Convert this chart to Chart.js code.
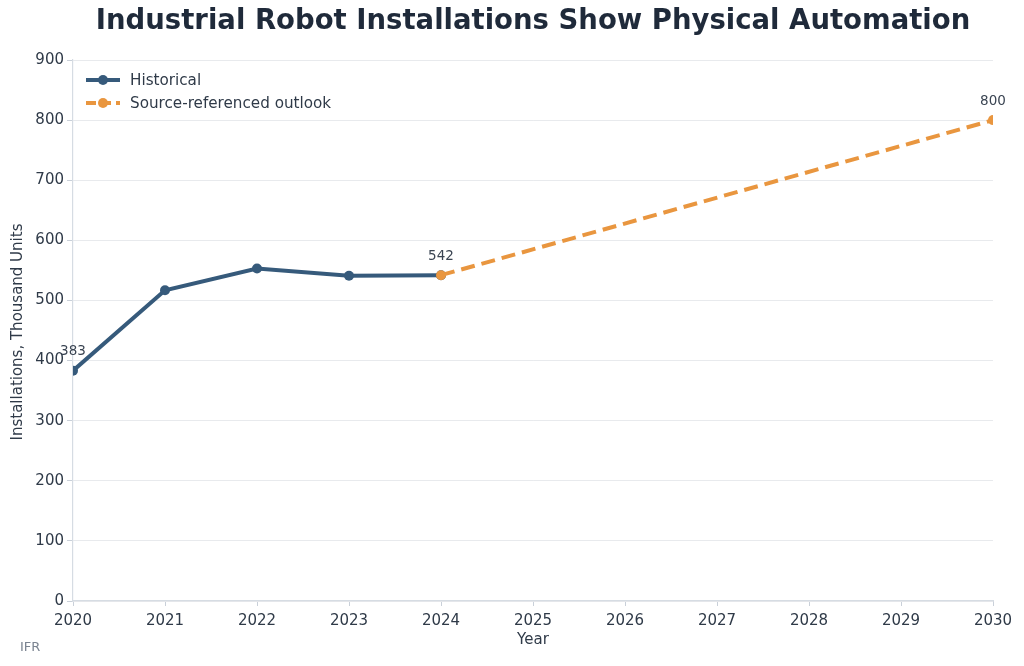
<!DOCTYPE html>
<html lang="en">
<head>
    <meta charset="UTF-8">
    <title>robot_installations</title>
    <script src="https://cdn.jsdelivr.net/npm/chart.js@4.4.1/dist/chart.umd.min.js"></script>
    <style>
        *{margin:0; padding:0;}
        body{background:#fff;}
        #wrap{width:1024px; height:666px; position:relative;}
    </style>
</head>
<body>
    <div id="wrap">
        <canvas id="lineChart" width="1024" height="666"></canvas>
    </div>

    <script>
        // data
        const histYears = [2020, 2021, 2022, 2023, 2024]
        const histValues = [383, 517, 553, 541, 542]
        const outlookYears = [2024, 2030]
        const outlookValues = [542, 800]
        const yTicks = [0, 100, 200, 300, 400, 500, 600, 700, 800, 900]

        const FONT = '"DejaVu Sans", sans-serif'
        const BLUE = '#365a7b'
        const ORANGE = '#e9963f'
        const TEXT = '#2f3a48'

        // labels drawn above some points
        const pointLabels = [
            {ds: 1, index: 0},
            {ds: 1, index: 4},
            {ds: 0, index: 1}
        ]

        const extraText = {
            id: 'extraText',
            afterDatasetsDraw(chart){
                const ctx = chart.ctx
                ctx.save()
                ctx.fillStyle = '#3a4452'
                ctx.font = '13.5px ' + FONT
                ctx.textAlign = 'center'
                ctx.textBaseline = 'middle'
                pointLabels.forEach(function(p){
                    const el = chart.getDatasetMeta(p.ds).data[p.index]
                    const v = chart.data.datasets[p.ds].data[p.index].y
                    ctx.fillText(String(v), el.x, el.y - 19)
                })

                // legend
                const rows = [
                    {label:'Historical', color:BLUE, dash:[]},
                    {label:'Source-referenced outlook', color:ORANGE, dash:[10, 5]}
                ]
                rows.forEach(function(r, i){
                    const y = 80 + i * 23
                    ctx.strokeStyle = r.color
                    ctx.lineWidth = 4
                    ctx.setLineDash(r.dash)
                    ctx.beginPath()
                    ctx.moveTo(86, y)
                    ctx.lineTo(120, y)
                    ctx.stroke()
                    ctx.setLineDash([])
                    ctx.fillStyle = r.color
                    ctx.beginPath()
                    ctx.arc(103, y, 5, 0, Math.PI * 2)
                    ctx.fill()
                    ctx.fillStyle = TEXT
                    ctx.font = '15.2px ' + FONT
                    ctx.textAlign = 'left'
                    ctx.fillText(r.label, 130, y + 1)
                })
                ctx.restore()
            },
            afterDraw(chart){
                const ctx = chart.ctx
                ctx.save()
                ctx.fillStyle = '#1f2a3a'
                ctx.font = 'bold 27.5px ' + FONT
                ctx.textAlign = 'center'
                ctx.textBaseline = 'middle'
                ctx.fillText('Industrial Robot Installations Show Physical Automation', 533, 22)

                ctx.fillStyle = TEXT
                ctx.font = '15px ' + FONT
                ctx.fillText('Year', 533, 640)
                ctx.translate(18, 332)
                ctx.rotate(-Math.PI / 2)
                ctx.fillText('Installations, Thousand Units', 0, 0)
                ctx.restore()

                ctx.save()
                ctx.fillStyle = '#7b8491'
                ctx.font = '13px ' + FONT
                ctx.textAlign = 'left'
                ctx.textBaseline = 'middle'
                ctx.fillText('IFR', 20, 648)
                ctx.restore()
            }
        }

        const config = {
            type:'line',
            data:{
                datasets:[
                    {
                        label:'Source-referenced outlook',
                        data:outlookYears.map(function(x, i){ return {x:x, y:outlookValues[i]} }),
                        borderColor:ORANGE,
                        backgroundColor:ORANGE,
                        borderWidth:4,
                        borderDash:[14, 7],
                        pointRadius:5,
                        pointBorderWidth:0,
                        pointHoverRadius:5,
                        clip:0,
                        order:0
                    },
                    {
                        label:'Historical',
                        data:histYears.map(function(x, i){ return {x:x, y:histValues[i]} }),
                        borderColor:BLUE,
                        backgroundColor:BLUE,
                        borderWidth:4,
                        pointRadius:5,
                        pointBorderWidth:0,
                        pointHoverRadius:5,
                        clip:0,
                        order:1
                    }
                ]
            },
            options:{
                responsive:false,
                animation:false,
                layout:{padding:{left:0, right:31, top:60, bottom:0}},
                plugins:{
                    legend:{display:false},
                    tooltip:{enabled:false}
                },
                scales:{
                    x:{
                        type:'linear',
                        min:2020,
                        max:2030,
                        afterFit:function(s){ s.height = 65 },
                        afterBuildTicks:function(s){
                            s.ticks = []
                            for(let y = 2020; y <= 2030; y++) s.ticks.push({value:y})
                        },
                        ticks:{
                            callback:function(v){ return String(v) },
                            color:TEXT,
                            font:{family:FONT, size:15},
                            padding:6,
                            maxRotation:0,
                            autoSkip:false
                        },
                        grid:{
                            drawOnChartArea:false,
                            drawTicks:true,
                            tickLength:5,
                            tickColor:'#c9d0d9',
                            color:'#c9d0d9'
                        },
                        border:{color:'#d6dce3', width:1.2}
                    },
                    y:{
                        min:0,
                        max:900,
                        afterFit:function(s){ s.width = 73 },
                        afterBuildTicks:function(s){
                            s.ticks = yTicks.map(function(v){ return {value:v} })
                        },
                        ticks:{
                            color:TEXT,
                            font:{family:FONT, size:15},
                            padding:3
                        },
                        grid:{
                            color:'#e8eaed',
                            lineWidth:1,
                            tickLength:6,
                            tickColor:'#c9d0d9'
                        },
                        border:{color:'#d6dce3', width:1.2}
                    }
                }
            },
            plugins:[extraText]
        }

        const ctx = document.querySelector('#lineChart').getContext('2d')
        const lineChart = new Chart(ctx, config)
    </script>
</body>
</html>
